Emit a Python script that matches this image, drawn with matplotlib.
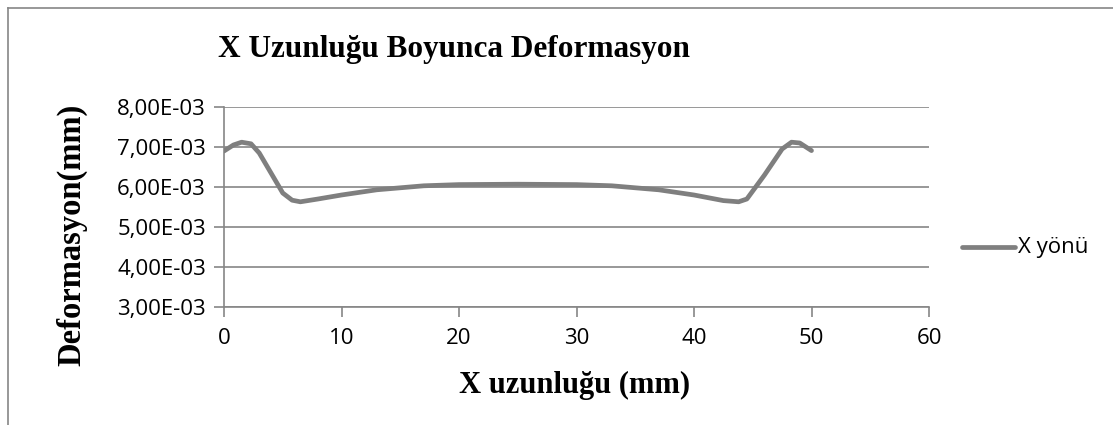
import numpy as np
import matplotlib.pyplot as plt
from matplotlib.lines import Line2D
from matplotlib.ticker import FuncFormatter

# values
x_mm = [0, 0.8, 1.5, 2.3, 3, 4, 5, 5.8, 6.5, 8, 10, 13, 17, 20, 25,
        30, 33, 37, 40, 42.5, 43.8, 44.5, 46, 47.5, 48.3, 49, 50]
deform = [6.90e-3, 7.05e-3, 7.12e-3, 7.08e-3, 6.85e-3, 6.35e-3, 5.85e-3, 5.67e-3,
          5.63e-3, 5.70e-3, 5.80e-3, 5.93e-3, 6.03e-3, 6.06e-3, 6.07e-3,
          6.06e-3, 6.03e-3, 5.93e-3, 5.80e-3, 5.66e-3, 5.63e-3, 5.70e-3,
          6.30e-3, 6.95e-3, 7.12e-3, 7.10e-3, 6.91e-3]
y_ticks = [3e-3, 4e-3, 5e-3, 6e-3, 7e-3, 8e-3]
x_ticks = [0, 10, 20, 30, 40, 50, 60]

grey = '#868686'
line_col = '#7f7f7f'
serif = 'Liberation Serif'
sans = 'Open Sans'

fig = plt.figure(figsize=(11.13, 4.25), dpi=100)
W, H = 1113, 425
ax = fig.add_axes([224 / W, 1 - 307 / H, (929 - 224) / W, 200 / H])

# outer chart frame (left and top visible)
fig.add_artist(Line2D([8 / W, 8 / W], [0, 1 - 8 / H], color=grey, lw=1.2))
fig.add_artist(Line2D([8 / W, 1], [1 - 8 / H, 1 - 8 / H], color=grey, lw=1.2))

ax.plot(x_mm, deform, color=line_col, lw=3.4, solid_capstyle='round',
        solid_joinstyle='round', zorder=3)

ax.set_xlim(0, 60)
ax.set_ylim(3e-3, 8e-3)
ax.set_xticks(x_ticks)
ax.set_yticks(y_ticks)
ax.yaxis.set_major_formatter(FuncFormatter(lambda v, p: f'{v * 1e3:.2f}E-03'.replace('.', ',')))
ax.grid(axis='y', color=grey, lw=1.2)
ax.set_axisbelow(True)
for s in ['top', 'right']:
    ax.spines[s].set_visible(False)
for s in ['left', 'bottom']:
    ax.spines[s].set_color(grey)
    ax.spines[s].set_linewidth(1.2)
ax.tick_params(axis='both', color=grey, width=1.2, length=7, labelsize=16,
               labelcolor='black')
ax.tick_params(axis='x', pad=8)
ax.tick_params(axis='y', pad=6)
for lab in ax.get_xticklabels() + ax.get_yticklabels():
    lab.set_family(sans)

fig.text(454 / W, 1 - 50 / H, 'X Uzunluğu Boyunca Deformasyon', family=serif,
         fontweight='bold', fontsize=22.5, ha='center', va='center')
fig.text(72 / W, 1 - 235 / H, 'Deformasyon(mm)', family=serif, fontweight='bold',
         fontsize=23.5, rotation=90, ha='center', va='center')
fig.text(575 / W, 1 - 385 / H, 'X uzunluğu (mm)', family=serif, fontweight='bold',
         fontsize=22, ha='center', va='center')

# legend entry
fig.add_artist(Line2D([962 / W, 1015 / W], [1 - 247 / H, 1 - 247 / H],
                      color=line_col, lw=3.4, solid_capstyle='round'))
fig.text(1018 / W, 1 - 247 / H, 'X yönü', family=sans, fontsize=16,
         ha='left', va='center')

fig.savefig('out.png', dpi=100)
